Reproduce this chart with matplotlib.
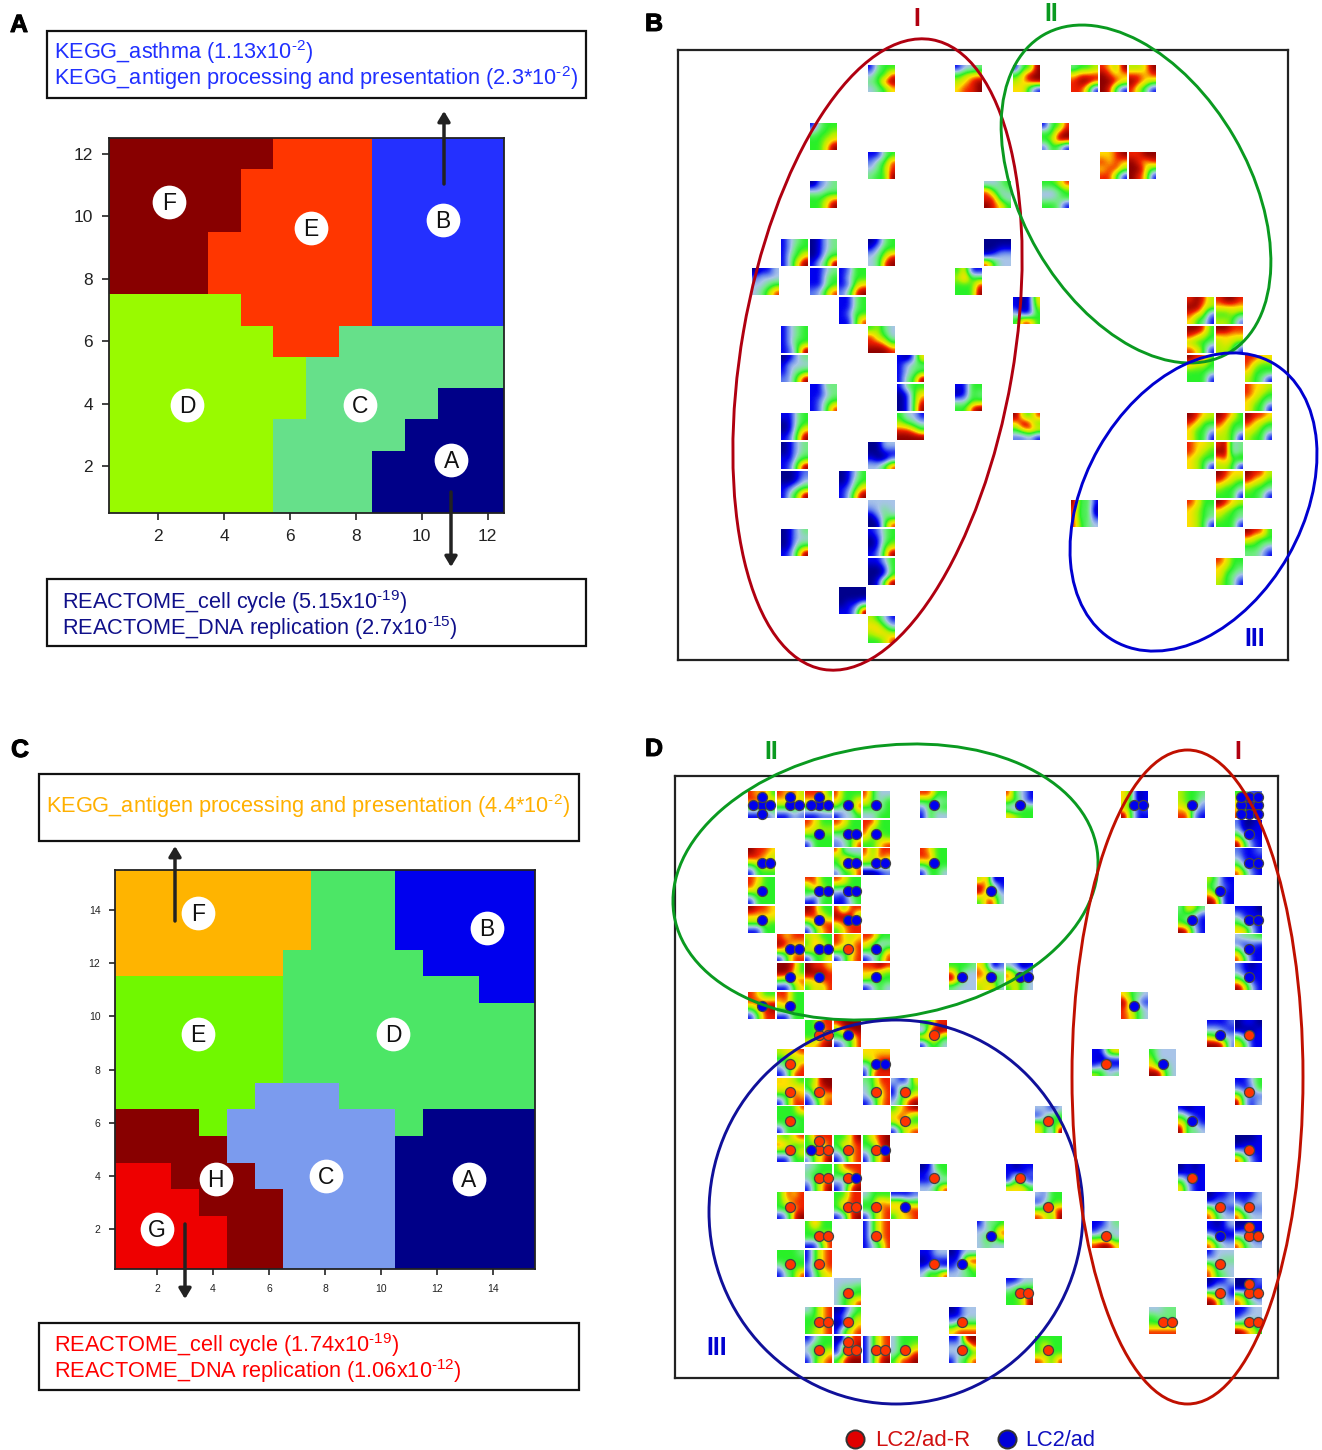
import numpy as np
import matplotlib
matplotlib.use('Agg')
import matplotlib.pyplot as plt
import matplotlib.patheffects as pe
from matplotlib.colors import LinearSegmentedColormap, ListedColormap
from matplotlib.patches import Ellipse, Rectangle

plt.rcParams['font.family'] = ['Liberation Sans', 'DejaVu Sans']
plt.rcParams['mathtext.fontset'] = 'custom'
plt.rcParams['mathtext.rm'] = 'Liberation Sans'
plt.rcParams['mathtext.default'] = 'regular'

W, H = 1322, 1450

# cluster maps, top row first
map_a = ["FFFFFEEEBBBB", "FFFFEEEEBBBB", "FFFFEEEEBBBB", "FFFEEEEEBBBB",
         "FFFEEEEEBBBB", "DDDDEEEEBBBB", "DDDDDEECCCCC", "DDDDDDCCCCCC",
         "DDDDDDCCCCAA", "DDDDDCCCCAAA", "DDDDDCCCAAAA", "DDDDDCCCAAAA"]
colors_a = {"A": "#000088", "B": "#2430ff", "C": "#66e08a",
            "D": "#99fa00", "E": "#ff3600", "F": "#880000"}
labels_a = [("F", 2.32, 10.45), ("E", 6.64, 9.62), ("B", 10.65, 9.88),
            ("D", 2.87, 3.96), ("C", 8.13, 3.96), ("A", 10.9, 2.2)]

map_c = ["FFFFFFFDDDBBBBB", "FFFFFFFDDDBBBBB", "FFFFFFFDDDBBBBB",
         "FFFFFFDDDDDBBBB", "EEEEEEDDDDDDDBB", "EEEEEEDDDDDDDDD",
         "EEEEEEDDDDDDDDD", "EEEEEEDDDDDDDDD", "EEEEECCCDDDDDDD",
         "HHHECCCCCCDAAAA", "HHHHCCCCCCAAAAA", "GGHHHCCCCCAAAAA",
         "GGGHHHCCCCAAAAA", "GGGGHHCCCCAAAAA", "GGGGHHCCCCAAAAA"]
colors_c = {"A": "#000088", "B": "#0000ee", "C": "#7b9bee", "D": "#4ce666",
            "E": "#70f800", "F": "#ffb400", "G": "#ee0000", "H": "#880000"}
labels_c = [("F", 3.46, 13.88), ("B", 13.79, 13.32), ("E", 3.46, 9.33),
            ("D", 10.43, 9.33), ("H", 4.1, 3.88), ("C", 8.04, 3.99),
            ("A", 13.14, 3.88), ("G", 2.0, 2.0)]

# portrait tiles: row, column, 4x4 level map (0 navy ... 9 dark red)
tiles_b = [
    (0, 4, "1455|3558|4589|3457"), (0, 7, "1334|5677|6789|7889"), (0, 9, "1559|5799|6789|7741"),
    (0, 11, "4556|7888|8998|8861"), (0, 12, "8769|9877|9987|9841"), (0, 13, "6679|8878|9876|8641"),
    (2, 2, "1455|4556|5567|5579"), (2, 10, "1558|5589|5699|2541"),
    (3, 4, "1145|2458|3468|4559"), (3, 12, "7789|8787|7886|8851"), (3, 13, "8899|9878|9975|9871"),
    (4, 2, "0234|3344|5567|5579"), (4, 8, "3345|8534|8843|9875"), (4, 10, "5568|3345|3345|5541"),
    (6, 1, "1345|1355|1457|1479"), (6, 2, "0134|0134|0145|1359"), (6, 4, "0145|1355|3468|3489"),
    (6, 8, "0000|0011|1233|8533"),
    (7, 0, "0113|2333|3345|3468"), (7, 2, "1134|1145|1145|2368"), (7, 3, "1255|1355|1267|2489"),
    (7, 7, "5711|6855|5558|5559"),
    (8, 3, "1145|1145|1255|1158"), (8, 9, "1017|1016|3115|5885"), (8, 15, "8986|9976|8762|7541"),
    (8, 16, "8998|7777|5565|6652"),
    (9, 1, "1345|1345|1355|1259"), (9, 4, "5643|8653|8875|9998"), (9, 15, "9985|8765|6554|8751"),
    (9, 16, "9988|7777|6765|6651"),
    (10, 1, "0134|1333|1345|2369"), (10, 5, "1027|1344|1345|1459"), (10, 15, "9885|7665|5554|5551"),
    (10, 17, "8877|8655|7555|6541"),
    (11, 2, "1144|1134|1245|1258"), (11, 5, "1455|0157|0158|0159"), (11, 7, "1155|0154|3355|5589"),
    (11, 17, "8776|8765|7654|7551"),
    (12, 1, "1145|0145|0157|1269"), (12, 5, "5331|6543|8875|9999"), (12, 9, "9658|7985|5787|2231"),
    (12, 15, "9876|8755|7553|7551"), (12, 16, "9875|8755|7654|6651"), (12, 17, "9887|8765|7654|6551"),
    (13, 1, "0134|0134|1145|1269"), (13, 4, "0033|0011|1002|3358"), (13, 15, "8776|8765|7655|7651"),
    (13, 16, "8934|9934|7856|6651"),
    (14, 1, "0012|0013|1245|1469"), (14, 3, "0135|0145|1257|1379"), (14, 16, "9877|8765|6554|5551"),
    (14, 17, "9886|8765|6554|5541"),
    (15, 4, "3333|2343|0244|0058"), (15, 11, "9451|8450|8451|8543"), (15, 15, "8755|7654|7654|7651"),
    (15, 16, "9876|7654|6554|5551"),
    (16, 1, "0134|0133|0145|1269"), (16, 4, "1245|0145|0156|1269"), (16, 17, "9885|7655|5543|4431"),
    (17, 4, "1135|0015|0015|0169"), (17, 16, "8755|7654|7543|6541"),
    (18, 3, "0000|0000|0113|1139"),
    (19, 4, "6531|7753|6776|5568"),
]

# same for panel D plus the samples sitting on the tile (b = LC2/ad, r = LC2/ad-R)
tiles_d = [
    (0, 0, "8785|8877|5555|1113", "bbbbb"), (0, 1, "8786|7777|5554|1132", "bbb"), (0, 2, "8885|7767|5556|1122", "bbbb"),
    (0, 3, "8555|7557|5348|1335", "b"), (0, 4, "8533|7535|5535|3355", "b"), (0, 6, "8855|5534|2545|1533", "b"),
    (0, 9, "8431|6531|3155|7655", "b"), (0, 13, "7501|7501|6512|9511", "bb"), (0, 15, "6554|6553|7642|8821", "b"),
    (0, 17, "5512|7512|7511|8631", "bbbbbbbbb"),
    (1, 2, "8755|7666|5555|1555", "b"), (1, 3, "8755|6555|3456|2358", "bb"), (1, 4, "8855|8555|7565|5578", "b"),
    (1, 17, "2001|3011|6311|9521", "b"),
    (2, 0, "9887|8876|5677|1555", "bb"), (2, 3, "8433|5765|5787|2558", "bb"), (2, 4, "8588|7687|5555|0012", "bb"),
    (2, 6, "8755|8855|5655|1553", "b"), (2, 17, "2112|3111|5211|8521", "bb"),
    (3, 0, "8755|8655|5655|1555", "b"), (3, 2, "8855|5865|5345|1155", "bb"), (3, 3, "8755|5555|2155|1135", "bb"),
    (3, 8, "6801|9751|8653|5883", "b"), (3, 16, "6411|5321|7511|9811", "b"),
    (4, 0, "9887|7777|6665|1155", "b"), (4, 2, "9855|8875|5788|1578", "b"), (4, 3, "8588|9995|7888|5788", "bb"),
    (4, 15, "4764|5431|5421|9831", "b"), (4, 17, "1110|3111|5321|7731", "bb"),
    (5, 1, "8788|9877|7677|1588", "bb"), (5, 2, "6755|5875|7655|1557", "bb"), (5, 3, "8767|8778|6568|1478", "r"),
    (5, 4, "8855|7533|5537|1358", "b"), (5, 17, "3445|2121|6211|8511", "b"),
    (6, 1, "9985|9975|6578|1157", "b"), (6, 2, "9887|9998|7788|5768", "b"), (6, 4, "8898|7765|6555|1353", "b"),
    (6, 7, "5554|8533|9633|4333", "b"), (6, 8, "7502|8754|7654|6773", "b"), (6, 9, "3201|8533|7653|5743", "bb"),
    (6, 17, "2101|3111|6411|9731", "b"),
    (7, 0, "8755|8888|5789|1588", "b"), (7, 1, "8855|7855|6655|1155", "b"), (7, 13, "7543|9631|8653|8753", "b"),
    (8, 2, "5588|5578|5578|7789", "rrb"), (8, 3, "8999|5899|5558|1358", "b"), (8, 6, "5588|1899|8885|1553", "r"),
    (8, 16, "1112|3321|6533|9982", "b"), (8, 17, "0110|0001|5211|7511", "r"),
    (9, 1, "6778|5566|3558|1388", "r"), (9, 4, "7777|6788|3599|1888", "bb"), (9, 12, "1167|1011|1311|6534", "r"),
    (9, 14, "5333|6333|7543|9953", "b"),
    (10, 1, "7765|7777|5587|1588", "r"), (10, 2, "5699|5789|2677|1378", "r"), (10, 4, "4588|3578|3568|1378", "r"),
    (10, 5, "3127|1545|1557|3589", "r"), (10, 17, "1135|2125|6322|9313", "r"),
    (11, 1, "5558|5555|5545|1555", "r"), (11, 5, "5789|7875|6855|1578", "r"), (11, 10, "3313|1355|6555|7529", "r"),
    (11, 15, "1011|5311|7531|9443", "b"),
    (12, 1, "6578|8755|5557|1155", "r"), (12, 2, "5888|5568|5678|2679", "rrrb"), (12, 3, "5579|5778|3578|1378", "r"),
    (12, 4, "5789|5589|3578|1579", "rb"), (12, 17, "0001|0111|3211|8521", "r"),
    (13, 2, "3455|4555|3578|1579", "rr"), (13, 3, "5888|5578|3358|1389", "rb"), (13, 6, "0155|1235|1133|3358", "r"),
    (13, 9, "1011|1212|1631|7775", "r"), (13, 15, "0101|1111|5211|7311", "r"),
    (14, 1, "5878|5788|5578|1389", "r"), (14, 3, "5588|5788|5788|1389", "rr"), (14, 4, "3555|5587|5578|1578", "r"),
    (14, 5, "1112|7755|7788|5778", "b"), (14, 10, "3255|1355|5578|8759", "r"), (14, 16, "0112|1223|6321|8533", "r"),
    (14, 17, "1113|2133|5222|8533", "r"),
    (15, 2, "5855|5555|5578|1158", "rr"), (15, 4, "1578|1578|1578|1358", "r"), (15, 8, "1445|3358|3547|3433", "b"),
    (15, 12, "1134|1333|5553|8997", "r"), (15, 16, "1013|1111|5211|8533", "b"), (15, 17, "0011|1211|5321|8533", "rrr"),
    (16, 1, "5554|5555|3555|1458", "r"), (16, 2, "1578|1578|2578|1467", "r"), (16, 6, "1133|0111|1221|3658", "r"),
    (16, 7, "0133|1189|1346|3345", "b"), (16, 16, "1333|3344|7433|8543", "r"),
    (17, 3, "3333|3445|3555|3568", "r"), (17, 9, "1133|3555|5578|5569", "rr"), (17, 16, "0113|1331|7531|9833", "r"),
    (17, 17, "0012|0021|6511|8643", "rrr"),
    (18, 2, "3578|5578|5578|5678", "rr"), (18, 3, "0135|1256|0157|1578", "r"), (18, 7, "0133|1133|3555|7888", "r"),
    (18, 14, "3344|5444|5555|8888", "rr"), (18, 17, "1133|1333|5553|9875", "rr"),
    (19, 2, "1355|3555|3557|1578", "r"), (19, 3, "0188|1579|1588|5899", "rrr"), (19, 4, "1578|1578|1578|1589", "rr"),
    (19, 5, "3555|3556|3568|5889", "r"), (19, 7, "1199|3348|3335|1458", "r"), (19, 10, "5555|5755|5655|8758", "r"),
]

# dot slots on a tile, in units of dot spacing
dot_slots = [(0, 0), (1, 0), (0, -1), (-1, 0), (0, 1), (-1, -1), (1, -1), (-1, 1), (1, 1)]

tile_cmap = LinearSegmentedColormap.from_list("portrait", [
    "#00008c", "#0000f0", "#5a78ee", "#a8c4e8", "#70ec80",
    "#28f028", "#b4f000", "#ffe000", "#f02000", "#8c0000"])


def px_axes(fig, left, top, right, bottom, **kw):
    return fig.add_axes([left / W, 1 - bottom / H, (right - left) / W, (bottom - top) / H], **kw)


def cluster_panel(box, grid, colors, labels, ticks, tick_size, tick_len, pad):
    ax = px_axes(fig, *box)
    keys = sorted(colors)
    n = len(grid)
    values = np.array([[keys.index(ch) for ch in row] for row in grid[::-1]])
    ax.imshow(values, cmap=ListedColormap([colors[k] for k in keys]), origin='lower',
              extent=(0.5, n + 0.5, 0.5, n + 0.5), aspect='auto', interpolation='nearest',
              vmin=0, vmax=len(keys) - 1)
    ax.set_xticks(ticks)
    ax.set_yticks(ticks)
    ax.tick_params(labelsize=tick_size, length=tick_len, width=1.2, pad=pad,
                   color='#222222', labelcolor='#222222')
    for spine in ax.spines.values():
        spine.set_linewidth(1.3)
        spine.set_color('#222222')
    for name, x, y in labels:
        ax.scatter([x], [y], s=590, color='white', zorder=3, linewidths=0)
        ax.annotate(name, (x, y), xytext=(0, -1), textcoords='offset points', ha='center', va='center',
                    fontsize=16.5, color='#111111', zorder=4)
    return ax


def tile_panel(box, x0, y0, pitch, tiles):
    ax = px_axes(fig, *box)
    left, top, right, bottom = box
    for row, col, levels, *_ in tiles:
        grid = np.array([[int(ch) for ch in part] for part in levels.split("|")], dtype=float)
        ax.imshow(grid, cmap=tile_cmap, vmin=0, vmax=9, interpolation='bicubic', aspect='auto',
                  extent=(col, col + 0.91, row + 0.91, row))
    ax.set_xlim((left - x0) / pitch, (right - x0) / pitch)
    ax.set_ylim((bottom - y0) / pitch, (top - y0) / pitch)
    ax.set_xticks([])
    ax.set_yticks([])
    for spine in ax.spines.values():
        spine.set_linewidth(1.6)
        spine.set_color('#222222')
    return ax


def text_box(left, top, right, bottom, lines, color):
    over.add_patch(Rectangle((left, top), right - left, bottom - top, fill=False,
                             edgecolor='#111111', linewidth=1.6))
    for x, y, s in lines:
        over.text(x, y, s, color=color, fontsize=15.65, ha='left', va='center')


def arrow(x, y_from, y_to):
    over.annotate("", xy=(x, y_to), xytext=(x, y_from),
                  arrowprops=dict(arrowstyle='-|>,head_width=0.36,head_length=0.6', color='#222222',
                                  lw=2.5, shrinkA=0, shrinkB=0))


fig = plt.figure(figsize=(W / 100, H / 100), dpi=100, facecolor='white')

cluster_panel((109, 138, 504, 513), map_a, colors_a, labels_a, [2, 4, 6, 8, 10, 12], 12.5, 5, 6.5)
cluster_panel((115, 870, 535, 1269), map_c, colors_c, labels_c, [2, 4, 6, 8, 10, 12, 14], 7.5, 4, 6.5)

tile_panel((678, 50, 1288, 660), 752, 66, 29.0, tiles_b)
ax_d = tile_panel((675, 776, 1278, 1378), 748, 792, 28.67, tiles_d)

for row, col, levels, dots in tiles_d:
    for (dx, dy), kind in zip(dot_slots, dots):
        ax_d.scatter(col + 0.48 + dx * 0.3, row + 0.47 + dy * 0.3, s=52, zorder=5,
                     color='#0000ee' if kind == 'b' else '#ff3300', edgecolors='#444444', linewidths=0.9)

# overlay in image pixels for boxes, arrows, ellipses and letters
over = fig.add_axes([0, 0, 1, 1], zorder=10)
over.set_xlim(0, W)
over.set_ylim(H, 0)
over.axis('off')
over.patch.set_alpha(0)

text_box(47, 31, 586, 98, [(54.5, 52, r"KEGG_asthma (1.13x10$^{\text{-2}}$)"),
                           (54.5, 78, r"KEGG_antigen processing and presentation (2.3*10$^{\text{-2}}$)")], '#2030ff')
text_box(47, 579, 586, 646, [(61.5, 602, r"REACTOME_cell cycle (5.15x10$^{\text{-19}}$)"),
                             (61.5, 628, r"REACTOME_DNA replication (2.7x10$^{\text{-15}}$)")], '#10108a')
text_box(39, 774, 579, 841, [(46.5, 806, r"KEGG_antigen processing and presentation (4.4*10$^{\text{-2}}$)")], '#ffb000')
text_box(39, 1323, 579, 1390, [(54.5, 1345, r"REACTOME_cell cycle (1.74x10$^{\text{-19}}$)"),
                               (54.5, 1371, r"REACTOME_DNA replication (1.06x10$^{\text{-12}}$)")], '#ff0000')

arrow(444, 184, 111)
arrow(451, 492, 567)
arrow(175, 921, 846)
arrow(185, 1224, 1299)

ellipses = [
    (877.5, 354.5, 272, 639, 9.8, '#b00010'),
    (1136, 194, 227, 368, -30.2, '#0a9a20'),
    (1193.5, 502, 218, 320, 29.7, '#0000d0'),
    (885.5, 882, 428, 271.5, -8.66, '#0a9a20'),
    (896, 1212, 374, 384, 0, '#10109a'),
    (1187.5, 1077, 231, 654, 0, '#c01000'),
]
for cx, cy, w, h, ang, col in ellipses:
    over.add_patch(Ellipse((cx, cy), w, h, angle=ang, fill=False, edgecolor=col, linewidth=2.1))

roman = [(917, 19, "I", '#b00010'), (1051, 14, "II", '#0a9a20'), (1255, 639, "III", '#0000d0'),
         (771, 752, "II", '#0a9a20'), (1238, 752, "I", '#b00010'), (717, 1348, "III", '#0000d0')]
for x, y, s, col in roman:
    over.text(x, y, s, color=col, fontsize=18, fontweight='bold', ha='center', va='center')

for x, y, s in [(19, 25, "A"), (654, 24, "B"), (20, 750, "C"), (654, 749, "D")]:
    over.text(x, y, s, fontsize=18, fontweight='bold', ha='center', va='center', color='black',
              path_effects=[pe.withStroke(linewidth=0.7, foreground='black')])

over.scatter([855], [1439], s=170, color='#e00000', edgecolors='#333333', linewidths=1.4, clip_on=False)
over.text(875, 1441, "LC2/ad-R", color='#d01010', fontsize=16, va='center')
over.scatter([1007], [1439], s=170, color='#0000d8', edgecolors='#333333', linewidths=1.4, clip_on=False)
over.text(1025, 1441, "LC2/ad", color='#1010c0', fontsize=15.7, va='center')

fig.savefig("out.png", dpi=100)
